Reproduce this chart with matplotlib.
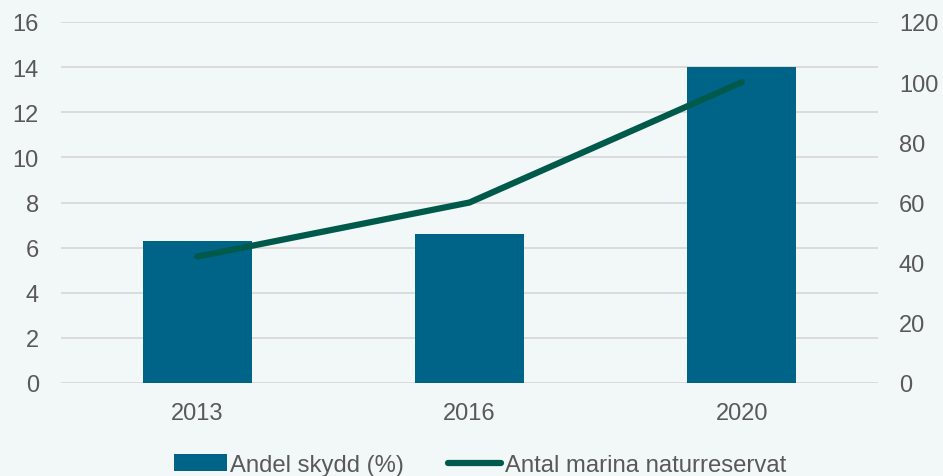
import matplotlib.pyplot as plt
import numpy as np

plt.rcParams['font.family'] = ['Liberation Sans', 'DejaVu Sans']

years = ['2013', '2016', '2020']
andel_skydd = [6.3, 6.6, 14.0]
antal_reservat = [42, 60, 100]

bg = '#F2F7F7'
text_col = '#595959'

fig = plt.figure(figsize=(9.43, 4.77), dpi=100, facecolor=bg)
ax = fig.add_axes([61 / 943, 1 - 384 / 477, 817 / 943, 361 / 477])
ax.set_facecolor(bg)

x = np.arange(len(years))
bars = ax.bar(x, andel_skydd, width=0.4, color='#006489', label='Andel skydd (%)', zorder=2)
ax.set_xlim(-0.5, 2.5)
ax.set_ylim(0, 16)
ax.set_yticks(range(0, 17, 2))
ax.set_xticks(x)
ax.set_xticklabels(years)
ax.grid(axis='y', color='#D9D9D9', linewidth=1.3, zorder=0)
ax.set_axisbelow(True)

ax2 = ax.twinx()
line, = ax2.plot(x, antal_reservat, color='#005A4B', linewidth=4.5, solid_capstyle='round',
                 label='Antal marina naturreservat', zorder=3)
ax2.set_ylim(0, 120)
ax2.set_yticks(range(0, 121, 20))

for a in (ax, ax2):
    for s in a.spines.values():
        s.set_visible(False)
    a.tick_params(length=0, labelsize=17, labelcolor=text_col)
ax.tick_params(axis='y', pad=16)
ax.tick_params(axis='x', pad=14)
ax2.tick_params(axis='y', pad=15)

fig.legend([bars, line], ['Andel skydd (%)', 'Antal marina naturreservat'],
           loc='lower center', bbox_to_anchor=(0.509, -0.045), ncol=2, frameon=False,
           fontsize=17.2, labelcolor=text_col, handlelength=2.2, handletextpad=0.15,
           columnspacing=1.85)

fig.savefig('out.png', dpi=100, facecolor=bg)
